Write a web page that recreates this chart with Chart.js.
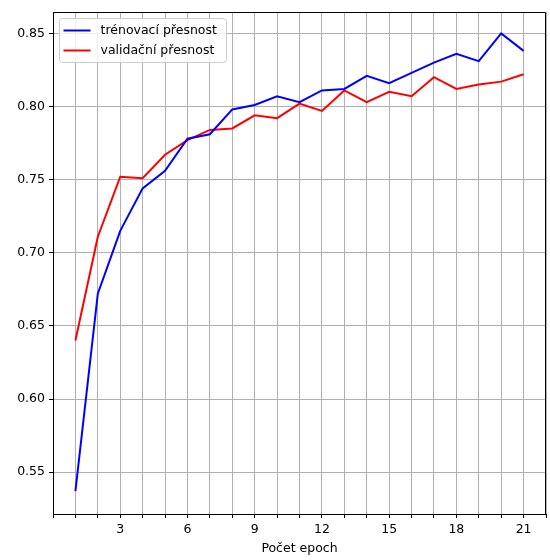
<!DOCTYPE html>
<html>
<head>
<meta charset="utf-8">
<script src="https://cdn.jsdelivr.net/npm/chart.js@4"></script>
<style>
html, body { margin: 0; padding: 0; background: #fff; }
#wrap { width: 550px; height: 560px; position: relative; }
</style>
</head>
<body>
<div id="wrap"><canvas id="accChart"></canvas></div>
<script>
// data
const epochs = [1, 2, 3, 4, 5, 6, 7, 8, 9, 10, 11, 12, 13, 14, 15, 16, 17, 18, 19, 20, 21];
const trainAcc = [0.537, 0.672, 0.715, 0.744, 0.756, 0.778, 0.781, 0.798, 0.801, 0.807, 0.803,
                  0.811, 0.812, 0.821, 0.816, 0.823, 0.830, 0.836, 0.831, 0.850, 0.838];
const valAcc = [0.640, 0.711, 0.752, 0.751, 0.767, 0.777, 0.784, 0.785, 0.794, 0.792, 0.802,
                0.797, 0.811, 0.803, 0.810, 0.807, 0.820, 0.812, 0.815, 0.817, 0.822];
const seriesNames = ['trénovací přesnost', 'validační přesnost'];
const seriesColors = ['#0000ff', '#ff0000'];
const xTicks = [0, 1, 2, 3, 4, 5, 6, 7, 8, 9, 10, 11, 12, 13, 14, 15, 16, 17, 18, 19, 20, 21, 22];
const xLabelled = [3, 6, 9, 12, 15, 18, 21];
const yTicks = [0.55, 0.60, 0.65, 0.70, 0.75, 0.80, 0.85];
const xTitle = 'Počet epoch';

Chart.defaults.font.family = 'DejaVu Sans';
Chart.defaults.font.size = 12.5;
Chart.defaults.color = '#000';

function toPoints(vals) {
    return epochs.map((e, i) => ({ x: e, y: vals[i] }));
}

// top/right spines + matplotlib style legend box
const frameAndLegend = {
    id: 'frameAndLegend',
    afterDatasetsDraw(chart) {
        const { ctx, chartArea: a } = chart;
        ctx.save();
        ctx.strokeStyle = '#000';
        ctx.lineWidth = 1;
        ctx.beginPath();
        ctx.moveTo(a.left, a.top + 0.5);
        ctx.lineTo(a.right - 0.5, a.top + 0.5);
        ctx.lineTo(a.right - 0.5, a.bottom);
        ctx.stroke();

        const bx = a.left + 6.5, by = a.top + 6.5, bw = 167, bh = 44;
        ctx.fillStyle = 'rgba(255,255,255,0.8)';
        ctx.strokeStyle = '#cccccc';
        ctx.beginPath();
        ctx.roundRect(bx, by, bw, bh, 3);
        ctx.fill();
        ctx.stroke();

        ctx.font = '12.5px "DejaVu Sans"';
        ctx.textBaseline = 'middle';
        chart.data.datasets.forEach((ds, i) => {
            const ly = by + 12 + i * 20;
            ctx.strokeStyle = ds.borderColor;
            ctx.lineWidth = 2;
            ctx.beginPath();
            ctx.moveTo(bx + 4, ly);
            ctx.lineTo(bx + 31, ly);
            ctx.stroke();
            ctx.fillStyle = '#000';
            ctx.fillText(ds.label, bx + 41, ly);
        });
        ctx.restore();
    }
};

new Chart(document.getElementById('accChart'), {
    type: 'line',
    data: {
        datasets: [
            { label: seriesNames[0], data: toPoints(trainAcc), borderColor: seriesColors[0] },
            { label: seriesNames[1], data: toPoints(valAcc), borderColor: seriesColors[1] }
        ]
    },
    options: {
        responsive: true,
        maintainAspectRatio: false,
        animation: false,
        devicePixelRatio: 1,
        layout: { padding: { left: 0, right: 3, top: 12, bottom: 0 } },
        elements: {
            line: { borderWidth: 2, tension: 0, fill: false },
            point: { radius: 0 }
        },
        plugins: { legend: { display: false }, tooltip: { enabled: false } },
        scales: {
            x: {
                type: 'linear',
                min: 0,
                max: 22,
                afterBuildTicks: s => { s.ticks = xTicks.map(v => ({ value: v })); },
                afterFit: s => { s.height = 46; },
                ticks: {
                    autoSkip: false,
                    maxRotation: 0,
                    padding: 4,
                    callback: v => xLabelled.includes(v) ? String(v) : ''
                },
                grid: { color: '#b0b0b0', lineWidth: 1, tickColor: '#000', tickLength: 4 },
                border: { display: true, color: '#000', width: 1 },
                title: { display: true, text: xTitle, padding: { top: 0, bottom: 4 } }
            },
            y: {
                type: 'linear',
                min: 0.5214,
                max: 0.8646,
                afterBuildTicks: s => { s.ticks = yTicks.map(v => ({ value: v })); },
                afterFit: s => { s.width = 53; },
                ticks: { padding: 4, callback: v => v.toFixed(2) },
                grid: { color: '#b0b0b0', lineWidth: 1, tickColor: '#000', tickLength: 4 },
                border: { display: true, color: '#000', width: 1 }
            }
        }
    },
    plugins: [frameAndLegend]
});
</script>
</body>
</html>
